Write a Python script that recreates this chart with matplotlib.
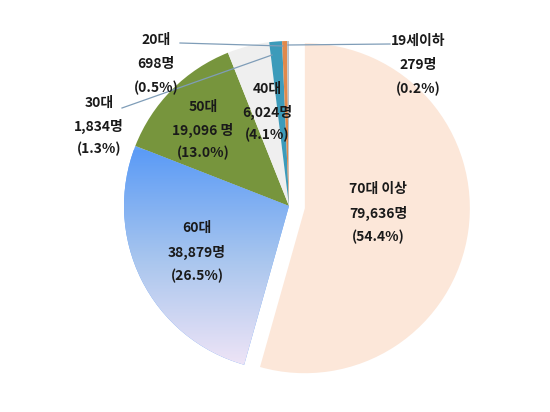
import numpy as np
import matplotlib
matplotlib.use("Agg")
import matplotlib.pyplot as plt
from matplotlib.colors import LinearSegmentedColormap

plt.rcParams['font.family'] = ['Noto Sans CJK KR', 'DejaVu Sans']

# data (clockwise from 12 o'clock)
groups = ["70대 이상", "60대", "50대", "40대", "30대", "20대", "19세이하"]
counts = [79636, 38879, 19096, 6024, 1834, 698, 279]
count_text = ["79,636명", "38,879명", "19,096 명", "6,024명", "1,834명", "698명", "279명"]
pct_text = ["(54.4%)", "(26.5%)", "(13.0%)", "(4.1%)", "(1.3%)", "(0.5%)", "(0.2%)"]

colors = ["#FCE7D9", "#64A2F6", "#77953D", "#EFEFEF", "#3C9BBA", "#E0894B", "#B9C3CC"]

W, H = 550, 412
fig = plt.figure(figsize=(W / 100, H / 100), dpi=100)
ax = fig.add_axes([0, 0, 1, 1])

cx, cy, r = 289, H - 206, 165

# explode is in data units here (pixels)
wedges, _ = ax.pie(
    counts,
    colors=colors,
    startangle=90,
    counterclock=False,
    explode=[16, 0, 0, 0, 0, 0, 0],
    center=(cx, cy),
    radius=r,
    wedgeprops=dict(linewidth=0),
)

# gradient fill for the 60대 slice
grad_cmap = LinearSegmentedColormap.from_list("g60", ["#5B9BF6", "#A9C6EE", "#F3E6F7"])
grad = np.linspace(0, 1, 256).reshape(-1, 1)
img = ax.imshow(grad, cmap=grad_cmap, aspect="auto",
                extent=(cx - r, cx + 10, H - 372, H - 150), origin="upper", zorder=2)
img.set_clip_path(wedges[1])

ax.set_xlim(0, W)
ax.set_ylim(0, H)
ax.set_aspect("equal")
ax.axis("off")

# label positions in pixels (x, y of the first line), line gap
label_pos = {
    "70대 이상": (378, 189),
    "60대": (197, 228),
    "50대": (203, 107),
    "40대": (267, 89),
    "30대": (99, 103),
    "20대": (156, 40),
    "19세이하": (418, 41),
}
gaps = {"70대 이상": 24, "60대": 24, "50대": 23, "40대": 23, "30대": 23, "20대": 24, "19세이하": 24}

for g, ct, pt in zip(groups, count_text, pct_text):
    x, y = label_pos[g]
    d = gaps[g]
    for i, s in enumerate([g, ct, pt]):
        ax.text(x, H - (y + i * d), s, ha="center", va="center",
                fontsize=10, fontweight="bold", color="#1a1a1a", zorder=5)

# leader lines
lc = "#7F9DB8"
ax.plot([180, 283], [H - 43, H - 46], color=lc, lw=0.9, zorder=4)
ax.plot([288, 390], [H - 45, H - 44], color=lc, lw=0.9, zorder=4)
ax.plot([122, 272], [H - 108, H - 55], color=lc, lw=0.9, zorder=4)

fig.savefig("out.png", dpi=100)
